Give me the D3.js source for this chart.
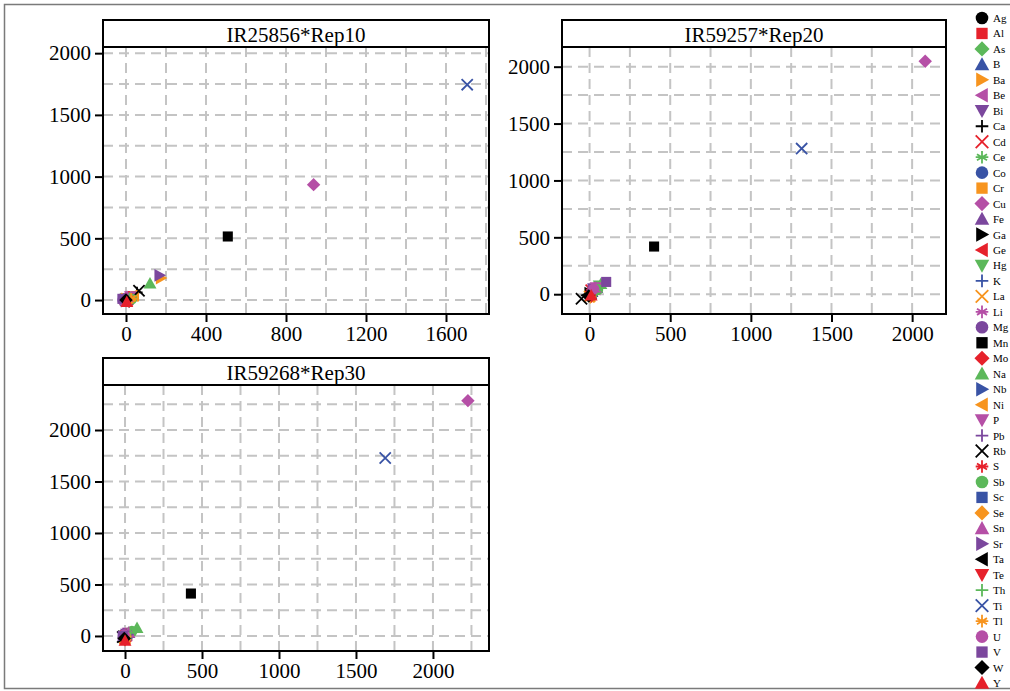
<!DOCTYPE html>
<html>
<head>
<meta charset="utf-8">
<script src="https://cdn.jsdelivr.net/npm/d3@7"></script>
<style>
  html, body { margin: 0; padding: 0; background: #fff; }
  svg { display: block; }
  text { font-family: "Liberation Serif", "Times New Roman", serif; fill: #000; }
</style>
</head>
<body>
<svg id="chart" width="1010" height="691"></svg>
<script>
// Element names, in legend order
const elements = ["Ag","Al","As","B","Ba","Be","Bi","Ca","Cd","Ce","Co","Cr","Cu","Fe","Ga","Ge","Hg","K","La","Li","Mg","Mn","Mo","Na","Nb","Ni","P","Pb","Rb","S","Sb","Sc","Se","Sn","Sr","Ta","Te","Th","Ti","Tl","U","V","W","Y"];

// IR25856*Rep10
const rep10X = [5,20,15,2,175,10,-8,55,8,25,3,40,938,12,-5,6,30,18,4,-2,-15,509,10,120,0,35,22,-10,65,15,28,8,20,6,168,-6,12,18,1706,26,-12,-18,0,4];
const rep10Y = [8,25,10,4,178,15,-5,62,5,18,2,30,935,20,3,-4,22,12,10,6,0,515,-2,135,-8,38,30,12,75,28,8,0,5,25,200,-10,-12,16,1745,12,-8,10,0,-15];

// IR59257*Rep20
const rep20X = [5,20,30,15,8,35,25,-20,10,40,10,5,2081,45,0,15,60,20,0,30,20,400,25,70,25,-5,40,30,-50,10,50,15,5,35,20,-10,12,45,1315,0,25,103,-5,10];
const rep20Y = [0,30,25,20,-10,45,50,-10,35,30,5,-15,2048,55,10,40,75,10,-20,55,40,419,15,90,20,-20,60,20,-40,25,40,0,-25,60,35,-5,-20,35,1280,-15,45,108,-15,-10];

// IR59268*Rep30
const rep30X = [0,10,20,5,-5,15,10,-10,5,25,15,-5,2227,25,-10,0,30,0,0,10,-10,428,5,78,15,-5,20,15,-15,5,45,10,0,25,20,-10,0,35,1690,5,-5,-15,-5,0];
const rep30Y = [-5,15,20,8,-15,10,20,-10,0,10,5,-25,2285,30,-5,10,25,5,-20,25,5,412,-10,78,10,-30,30,20,-10,15,45,5,-35,35,20,-20,-40,30,1728,-5,10,0,-25,-45];

const panelTitles = ["IR25856*Rep10", "IR59257*Rep20", "IR59268*Rep30"];
const xTickValues = [[0,400,800,1200,1600], [0,500,1000,1500,2000], [0,500,1000,1500,2000]];
const yTickValues = [[0,500,1000,1500,2000], [0,500,1000,1500,2000], [0,500,1000,1500,2000]];

// Marker styling cycles
const palette = ["#000000","#e6212b","#5cb85a","#3953a5","#f7941e","#b54fa6","#7b479d"];
const shapes = ["circle","square","diamond","triUp","triRight","triLeft","triDown","plus","cross","asterisk"];

const svg = d3.select("#chart");

// outer frame
svg.append("rect").attr("x", 4.5).attr("y", 4.5).attr("width", 1020).attr("height", 684)
  .attr("fill", "none").attr("stroke", "#7a7a7a").attr("stroke-width", 1.5);

function symbolPath(shape, r) {
  switch (shape) {
    case "circle": return d3.symbol(d3.symbolCircle, Math.PI * r * r)();
    case "square": { const s = r * 0.9; return `M${-s},${-s}H${s}V${s}H${-s}Z`; }
    case "diamond": { const s = r * 1.2; return `M0,${-s}L${s},0L0,${s}L${-s},0Z`; }
    case "triUp": { const s = r * 1.15; return `M0,${-s}L${s},${s * 0.8}L${-s},${s * 0.8}Z`; }
    case "triDown": { const s = r * 1.15; return `M0,${s}L${s},${-s * 0.8}L${-s},${-s * 0.8}Z`; }
    case "triRight": { const s = r * 1.15; return `M${s},0L${-s * 0.8},${s}L${-s * 0.8},${-s}Z`; }
    case "triLeft": { const s = r * 1.15; return `M${-s},0L${s * 0.8},${s}L${s * 0.8},${-s}Z`; }
    case "plus": return `M${-r},0H${r}M0,${-r}V${r}`;
    case "cross": return `M${-r},${-r}L${r},${r}M${r},${-r}L${-r},${r}`;
    case "asterisk": { const d = r * 0.8; return `M0,${-r}V${r}M${-d},${-d * 0.6}L${d},${d * 0.6}M${d},${-d * 0.6}L${-d},${d * 0.6}M${-r},0H${r}`; }
  }
}
const isLine = s => s === "plus" || s === "cross" || s === "asterisk";

function drawMarker(g, i, x, y, r) {
  const shape = shapes[i % shapes.length];
  const color = palette[i % palette.length];
  const p = g.append("path").attr("d", symbolPath(shape, r)).attr("transform", `translate(${x},${y})`);
  if (isLine(shape)) p.attr("fill", "none").attr("stroke", color).attr("stroke-width", 1.8);
  else p.attr("fill", color);
}

// panel geometry
const panels = [
  { left: 103, right: 489, top: 20, strip: 27, bottom: 314, xDom: [-115, 1815], yDom: [-113, 2050], gx: 200, gy: 250, xs: rep10X, ys: rep10Y },
  { left: 562, right: 946, top: 20, strip: 27, bottom: 314, xDom: [-171, 2210], yDom: [-174, 2173], gx: 250, gy: 250, xs: rep20X, ys: rep20Y },
  { left: 103, right: 489, top: 358, strip: 27, bottom: 651, xDom: [-143, 2364], yDom: [-146, 2437], gx: 250, gy: 250, xs: rep30X, ys: rep30Y }
];

panels.forEach((p, k) => {
  const plotTop = p.top + p.strip;
  const x = d3.scaleLinear().domain(p.xDom).range([p.left, p.right]);
  const y = d3.scaleLinear().domain(p.yDom).range([p.bottom, plotTop]);
  const g = svg.append("g");

  // dashed grid
  const gxVals = d3.range(0, p.xDom[1], p.gx);
  const gyVals = d3.range(0, p.yDom[1], p.gy);
  g.append("g").selectAll("line").data(gxVals).join("line")
    .attr("x1", d => x(d)).attr("x2", d => x(d)).attr("y1", plotTop).attr("y2", p.bottom)
    .attr("stroke", "#c4c4c4").attr("stroke-width", 2).attr("stroke-dasharray", "10,6");
  g.append("g").selectAll("line").data(gyVals).join("line")
    .attr("x1", p.left).attr("x2", p.right).attr("y1", d => y(d)).attr("y2", d => y(d))
    .attr("stroke", "#c4c4c4").attr("stroke-width", 2).attr("stroke-dasharray", "10,6");

  // axes
  const fmt = d3.format("d");
  const xAxis = g.append("g").attr("transform", `translate(0,${p.bottom})`)
    .call(d3.axisBottom(x).tickValues(xTickValues[k]).tickFormat(fmt).tickSize(8).tickPadding(4).tickSizeOuter(0));
  const yAxis = g.append("g").attr("transform", `translate(${p.left},0)`)
    .call(d3.axisLeft(y).tickValues(yTickValues[k]).tickFormat(fmt).tickSize(8).tickPadding(4).tickSizeOuter(0));
  [xAxis, yAxis].forEach(a => {
    a.select(".domain").remove();
    a.selectAll(".tick line").attr("stroke", "#000").attr("stroke-width", 2);
    a.selectAll(".tick text").attr("font-size", 21).attr("font-family", "Liberation Serif");
  });

  // markers
  const mg = g.append("g");
  elements.forEach((e, i) => drawMarker(mg, i, x(p.xs[i]), y(p.ys[i]), 5.6));

  // frame and title strip
  g.append("rect").attr("x", p.left).attr("y", p.top).attr("width", p.right - p.left).attr("height", p.bottom - p.top)
    .attr("fill", "none").attr("stroke", "#000").attr("stroke-width", 2);
  g.append("line").attr("x1", p.left).attr("x2", p.right).attr("y1", plotTop).attr("y2", plotTop)
    .attr("stroke", "#000").attr("stroke-width", 2);
  g.append("text").attr("x", (p.left + p.right) / 2).attr("y", p.top + p.strip / 2 + 1)
    .attr("text-anchor", "middle").attr("dominant-baseline", "central")
    .attr("font-size", 21).text(panelTitles[k]);
});

// legend
const legend = svg.append("g");
const legTop = 18, legStep = (683 - 18) / (elements.length - 1);
elements.forEach((e, i) => {
  const cy = legTop + i * legStep;
  drawMarker(legend, i, 982, cy, 6.3);
  legend.append("text").attr("x", 993).attr("y", cy).attr("dominant-baseline", "central")
    .attr("font-size", 11).text(e);
});
</script>
</body>
</html>
